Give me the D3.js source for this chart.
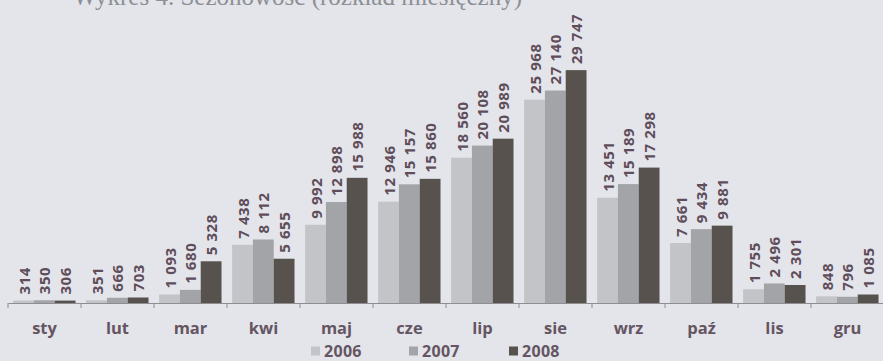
<!DOCTYPE html>
<html>
<head>
<meta charset="utf-8">
<script src="https://cdn.jsdelivr.net/npm/d3@7"></script>
<style>
  html, body { margin: 0; padding: 0; background: #e3e5ea; }
  svg { display: block; }
</style>
</head>
<body>
<svg id="chart" width="883" height="361"></svg>
<script>
// Monthly breakdown, three years
const months = ["sty", "lut", "mar", "kwi", "maj", "cze", "lip", "sie", "wrz", "paź", "lis", "gru"];
const years = ["2006", "2007", "2008"];
const values2006 = [314, 351, 1093, 7438, 9992, 12946, 18560, 25968, 13451, 7661, 1755, 848];
const values2007 = [350, 666, 1680, 8112, 12898, 15157, 20108, 27140, 15189, 9434, 2496, 796];
const values2008 = [306, 703, 5328, 5655, 15988, 15860, 20989, 29747, 17298, 9881, 2301, 1085];
const seriesValues = [values2006, values2007, values2008];
const colors = ["#c3c4c7", "#a3a4a7", "#58524f"];
const title = "Wykres 4. Sezonowość (rozkład miesięczny)";

const svg = d3.select("#chart");
const baseY = 303;

const fmt = d3.formatLocale({ decimal: ",", thousands: "\u00a0", grouping: [3], currency: ["", ""] }).format(",d");

const rows = months.map((m, i) => ({ month: m, vals: years.map((y, k) => ({ year: y, k, v: seriesValues[k][i] })) }));

const x0 = d3.scaleBand().domain(months).range([8, 884]).paddingInner(0).paddingOuter(0);
const bw = x0.bandwidth();
const x1 = d3.scaleBand().domain(years).range([bw * 0.07, bw * 0.925]).padding(0);
const y = d3.scaleLinear().domain([0, 35000]).range([baseY, 29]);

// Title line running off the top edge
svg.append("text")
  .attr("x", 522).attr("y", 5)
  .attr("text-anchor", "end")
  .attr("font-family", "Liberation Serif, serif")
  .attr("font-size", 25)
  .attr("fill", "#8d8f95")
  .text(title);

const g = svg.append("g");

const groups = g.selectAll("g.month").data(rows).join("g")
  .attr("class", "month")
  .attr("transform", d => `translate(${x0(d.month)},0)`);

groups.selectAll("rect").data(d => d.vals).join("rect")
  .attr("x", d => x1(d.year))
  .attr("width", x1.bandwidth())
  .attr("y", d => y(d.v))
  .attr("height", d => baseY - y(d.v))
  .attr("fill", d => colors[d.k]);

groups.selectAll("text.val").data(d => d.vals).join("text")
  .attr("class", "val")
  .attr("transform", d => `translate(${x1(d.year) + x1.bandwidth() / 2},${y(d.v) - 6}) rotate(-90)`)
  .attr("text-anchor", "start")
  .attr("dominant-baseline", "central")
  .attr("font-family", "Open Sans, sans-serif")
  .attr("font-weight", 700)
  .attr("font-size", 15)
  .attr("letter-spacing", 0.6)
  .attr("fill", "#5f4d5b")
  .text(d => fmt(d.v));

// Category axis
const axis = d3.axisBottom(x0).tickSize(0).tickPadding(19);
const ax = svg.append("g").attr("transform", `translate(0,${baseY})`).call(axis);
ax.select(".domain").attr("stroke", "#8e8e92").attr("stroke-width", 1.2);
ax.selectAll(".tick text")
  .attr("font-family", "Open Sans, sans-serif")
  .attr("font-weight", 700)
  .attr("font-size", 16.5)
  .attr("fill", "#655562");

// Boundary ticks between categories
ax.selectAll("line.sep").data(months).join("line")
  .attr("class", "sep")
  .attr("x1", d => x0(d)).attr("x2", d => x0(d))
  .attr("y1", 0).attr("y2", 5)
  .attr("stroke", "#8e8e92");

// Legend
const legendX = [311, 409, 509];
const leg = svg.append("g").selectAll("g").data(years).join("g")
  .attr("transform", (d, i) => `translate(${legendX[i]},351)`);
leg.append("rect").attr("x", 0).attr("y", -4.5).attr("width", 9).attr("height", 9)
  .attr("fill", (d, i) => colors[i]);
leg.append("text").attr("x", 13).attr("y", 5.5)
  .attr("font-family", "Open Sans, sans-serif")
  .attr("font-weight", 700)
  .attr("font-size", 16)
  .attr("letter-spacing", 0.3)
  .attr("fill", "#655562")
  .text(d => d);
</script>
</body>
</html>
